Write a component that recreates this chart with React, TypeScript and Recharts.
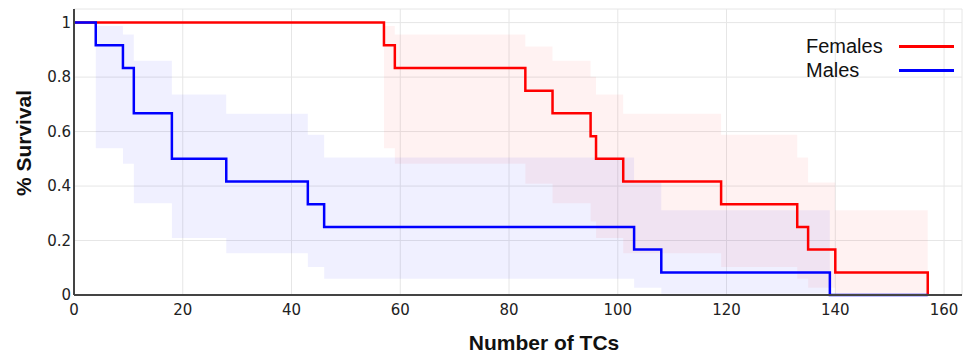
import { ComposedChart, Line, Area, XAxis, YAxis, CartesianGrid, Legend } from "recharts";

const X_TICKS = [0, 20, 40, 60, 80, 100, 120, 140, 160];
const Y_TICKS = [0, 0.2, 0.4, 0.6, 0.8, 1];

// Females: event times, survival and confidence band (null = no band)
const FEMALE_T = [0, 57, 59, 83, 88, 95, 96, 101, 119, 133, 135, 140, 157];
const FEMALE_S = [1, 0.917, 0.833, 0.75, 0.667, 0.583, 0.5, 0.417, 0.333, 0.25, 0.167, 0.083, 0];
const FEMALE_LO = [null, 0.539, 0.482, 0.408, 0.337, 0.27, 0.209, 0.153, 0.103, 0.06, 0.027, 0.005, null];
const FEMALE_HI = [null, 0.988, 0.956, 0.912, 0.86, 0.801, 0.736, 0.665, 0.588, 0.505, 0.413, 0.311, null];

// Males
const MALE_T = [0, 4, 9, 11, 18, 28, 43, 46, 103, 108, 139, 157];
const MALE_S = [1, 0.917, 0.833, 0.667, 0.5, 0.417, 0.333, 0.25, 0.167, 0.083, 0, 0];
const MALE_LO = [null, 0.539, 0.482, 0.337, 0.209, 0.153, 0.103, 0.06, 0.027, 0.005, null, null];
const MALE_HI = [null, 0.988, 0.956, 0.86, 0.736, 0.665, 0.588, 0.505, 0.413, 0.311, null, null];

const SERIES = [
  { name: "Females", color: "#ff0000" },
  { name: "Males", color: "#0000ff" },
];

const TICK_FONT = "'DejaVu Sans', Verdana, sans-serif";
const TITLE_FONT = "'Liberation Sans', Arial, sans-serif";

function lastIndex(times: number[], t: number) {
  let j = 0;
  times.forEach((v, i) => {
    if (v <= t) j = i;
  });
  return j;
}

function bandAt(times: number[], lo: (number | null)[], hi: (number | null)[], t: number) {
  const j = lastIndex(times, t);
  if (lo[j] != null) return [lo[j], hi[j]];
  // close the last step of the band at the series' own time
  if (times[j] === t && j > 0 && lo[j - 1] != null) return [lo[j - 1], hi[j - 1]];
  return null;
}

const allTimes = Array.from(new Set([...FEMALE_T, ...MALE_T])).sort((a, b) => a - b);

const data = allTimes.map((t) => ({
  t,
  female: FEMALE_S[lastIndex(FEMALE_T, t)],
  male: MALE_S[lastIndex(MALE_T, t)],
  femaleBand: bandAt(FEMALE_T, FEMALE_LO, FEMALE_HI, t),
  maleBand: bandAt(MALE_T, MALE_LO, MALE_HI, t),
}));

const LegendBox = () => (
  <div>
    {SERIES.map((s) => (
      <div key={s.name} style={{ display: "flex", alignItems: "center", height: 24.5 }}>
        <span style={{ width: 93, fontFamily: TITLE_FONT, fontSize: 20, color: "#111" }}>{s.name}</span>
        <span style={{ width: 55, height: 3, background: s.color }} />
      </div>
    ))}
  </div>
);

export default function App() {
  return (
    <div
      style={{
        position: "fixed",
        left: 0,
        top: 0,
        width: 965,
        height: 355,
        background: "#fff",
        fontFamily: TITLE_FONT,
      }}
    >
      <ComposedChart
        width={965}
        height={355}
        data={data}
        margin={{ top: 9, right: 3, bottom: 0, left: 0 }}
      >
        <CartesianGrid stroke="#e6e6e6" strokeWidth={1} />
        <XAxis
          type="number"
          dataKey="t"
          domain={[0, 163.3]}
          ticks={X_TICKS}
          height={60}
          tickLine={false}
          tickSize={0}
          tickMargin={9}
          axisLine={{ stroke: "#444", strokeWidth: 2 }}
          tick={{ fontSize: 15, fill: "#222", fontFamily: TICK_FONT }}
          label={{
            content: () => (
              <text
                x={544}
                y={350}
                textAnchor="middle"
                fontFamily={TITLE_FONT}
                fontWeight="bold"
                fontSize={21}
                fill="#111"
              >
                Number of TCs
              </text>
            ),
          }}
        />
        <YAxis
          type="number"
          domain={[0, 1.05]}
          ticks={Y_TICKS}
          width={74}
          tickLine={false}
          tickSize={0}
          tickMargin={3}
          axisLine={{ stroke: "#444", strokeWidth: 2 }}
          tick={{ fontSize: 15, fill: "#222", fontFamily: TICK_FONT }}
          label={{
            content: () => (
              <text
                transform="rotate(-90)"
                x={-143}
                y={31}
                textAnchor="middle"
                fontFamily={TITLE_FONT}
                fontWeight="bold"
                fontSize={21}
                fill="#111"
              >
                % Survival
              </text>
            ),
          }}
        />
        <Area
          type="stepAfter"
          dataKey="femaleBand"
          stroke="none"
          fill="#ff0000"
          fillOpacity={0.05}
          isAnimationActive={false}
          legendType="none"
        />
        <Area
          type="stepAfter"
          dataKey="maleBand"
          stroke="none"
          fill="#0000ff"
          fillOpacity={0.06}
          isAnimationActive={false}
          legendType="none"
        />
        <Line
          type="stepAfter"
          dataKey="female"
          stroke="#ff0000"
          strokeWidth={2.5}
          dot={false}
          activeDot={false}
          isAnimationActive={false}
        />
        <Line
          type="stepAfter"
          dataKey="male"
          stroke="#0000ff"
          strokeWidth={2.5}
          dot={false}
          activeDot={false}
          isAnimationActive={false}
        />
        <Legend
          layout="vertical"
          align="center"
          verticalAlign="middle"
          content={() => <LegendBox />}
          wrapperStyle={{ left: 806, top: 34, width: 155, height: 49 }}
        />
      </ComposedChart>
    </div>
  );
}
